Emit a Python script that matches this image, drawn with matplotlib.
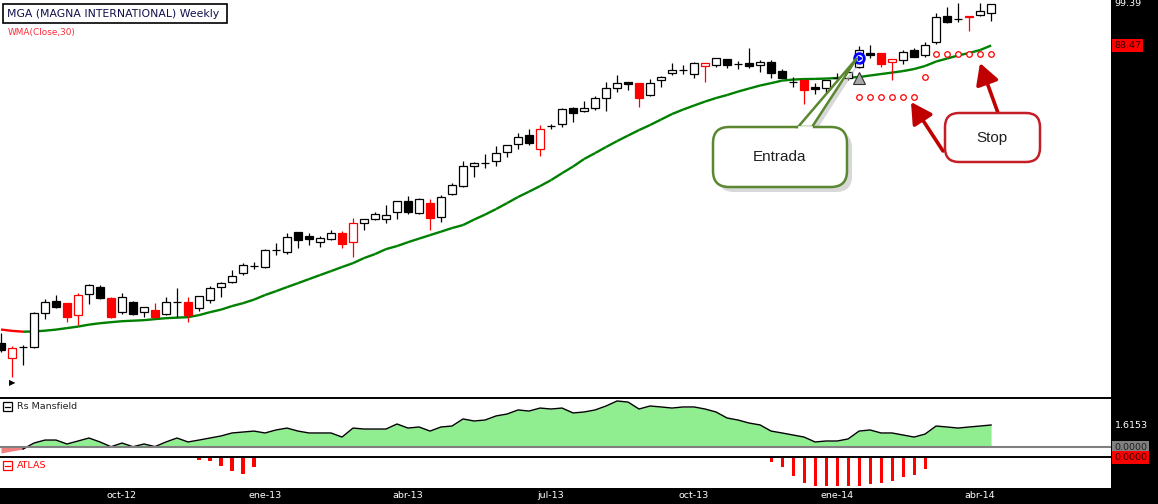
import numpy as np
import pandas as pd
import matplotlib
matplotlib.use('Agg')
import matplotlib.pyplot as plt
from matplotlib.patches import Rectangle, FancyBboxPatch, Polygon, FancyArrowPatch
from matplotlib.collections import LineCollection

# MGA weekly candles, jul-12 .. abr-14
opens = [38.40, 36.82, 37.98, 37.98, 41.77, 43.21, 42.96, 41.54, 44.07, 44.94,
         43.58, 41.89, 43.08, 41.89, 42.13, 41.66, 43.08, 43.08, 42.37, 43.33,
         44.94, 45.57, 46.73, 47.67, 47.54, 49.85, 49.56, 52.43, 51.85, 50.97,
         51.41, 52.28, 50.97, 53.76, 54.38, 54.38, 55.45, 57.20, 55.29, 56.87,
         54.69, 58.34, 59.65, 63.09, 63.61, 63.98, 65.62, 67.12, 68.83, 66.18,
         70.59, 70.99, 74.24, 73.61, 74.24, 76.36, 78.53, 79.84, 79.61, 77.00,
         80.31, 81.88, 82.59, 81.67, 83.53, 83.76, 85.18, 84.00, 84.21, 83.76,
         84.45, 82.35, 79.84, 80.31, 78.75, 78.53, 80.76, 80.76, 83.29, 86.63,
         86.63, 84.45, 84.93, 87.35, 86.15, 89.32, 96.10, 95.29, 95.83, 96.37,
         96.89]
highs = [39.49, 38.09, 38.19, 41.89, 43.45, 43.95, 43.00, 44.18, 45.32, 45.19,
         43.65, 44.18, 43.21, 42.55, 42.96, 43.70, 44.81, 43.70, 43.85, 45.07,
         45.57, 47.13, 48.06, 48.20, 49.99, 50.83, 52.28, 52.50, 52.28, 51.85,
         52.73, 52.58, 54.53, 54.40, 55.45, 56.56, 57.25, 58.01, 57.69, 57.52,
         58.18, 60.14, 63.98, 63.80, 65.26, 66.74, 66.95, 69.20, 70.00, 70.79,
         70.99, 74.24, 74.45, 75.71, 76.79, 79.84, 81.44, 79.90, 79.70, 80.53,
         81.21, 84.21, 83.76, 84.45, 84.25, 85.50, 85.25, 84.69, 87.85, 84.93,
         84.93, 82.82, 80.98, 80.40, 79.61, 80.40, 81.88, 82.20, 88.34, 88.59,
         86.70, 85.25, 87.35, 87.85, 89.32, 96.89, 98.55, 99.67, 96.15, 99.67,
         99.45]
lows = [37.44, 34.91, 36.11, 37.87, 41.08, 42.40, 40.73, 40.40, 42.85, 43.45,
        41.19, 41.66, 41.60, 41.31, 41.08, 41.54, 41.31, 40.73, 42.01, 42.96,
        43.70, 45.44, 46.48, 47.27, 47.40, 49.16, 49.30, 50.13, 50.56, 50.27,
        51.26, 50.13, 48.89, 52.73, 54.22, 53.76, 54.38, 55.15, 55.15, 52.73,
        53.91, 58.18, 59.49, 61.18, 62.74, 63.09, 64.71, 66.18, 66.93, 64.89,
        70.00, 70.39, 71.37, 73.50, 73.82, 73.61, 77.64, 78.08, 74.45, 76.79,
        78.75, 81.44, 81.67, 80.76, 79.84, 83.29, 83.06, 82.82, 83.06, 82.12,
        80.76, 80.70, 78.75, 75.08, 77.22, 77.22, 79.61, 80.31, 83.10, 85.42,
        83.29, 80.31, 84.00, 85.60, 85.66, 88.84, 94.24, 94.50, 92.13, 96.10,
        94.77]
closes = [37.66, 37.87, 37.98, 41.77, 43.08, 42.49, 41.31, 43.95, 45.19, 43.58,
          41.31, 43.70, 41.66, 42.49, 41.31, 43.08, 43.08, 41.54, 43.82, 44.81,
          45.44, 46.35, 47.81, 47.67, 49.85, 49.85, 51.70, 51.26, 51.41, 51.56,
          52.28, 50.70, 53.76, 54.38, 55.15, 54.99, 57.20, 55.45, 57.52, 54.53,
          57.85, 59.82, 63.09, 63.61, 63.61, 65.43, 66.93, 68.44, 67.28, 70.00,
          70.59, 74.03, 73.19, 74.24, 76.36, 78.53, 79.61, 79.42, 76.36, 79.61,
          80.98, 82.59, 82.59, 84.21, 84.21, 85.42, 83.76, 84.00, 83.53, 84.45,
          81.88, 80.76, 79.84, 78.08, 78.31, 80.31, 80.76, 82.12, 87.35, 86.15,
          84.00, 85.18, 86.87, 85.66, 88.59, 95.83, 94.50, 95.29, 96.10, 97.44,
          99.39]
red_bars = [1, 6, 7, 10, 14, 17, 31, 32, 39, 49, 58, 64, 73, 80, 81, 88]

wma30 = [39.90, 39.75, 39.66, 39.68, 39.77, 39.89, 40.06, 40.23, 40.45, 40.61,
         40.73, 40.84, 40.90, 40.96, 41.08, 41.19, 41.25, 41.31, 41.54, 41.89,
         42.19, 42.61, 42.96, 43.39, 43.95, 44.43, 44.94, 45.44, 45.96, 46.48,
         47.00, 47.54, 48.06, 48.75, 49.30, 49.99, 50.42, 50.97, 51.48, 51.99,
         52.50, 53.03, 53.48, 54.30, 55.07, 55.93, 56.87, 57.85, 58.73, 59.65,
         60.66, 61.85, 63.01, 64.35, 65.43, 66.56, 67.67, 68.73, 69.80, 70.79,
         71.89, 73.01, 73.92, 74.77, 75.60, 76.36, 77.00, 77.75, 78.42, 79.08,
         79.61, 80.18, 80.41, 80.53, 80.56, 80.64, 80.76, 80.87, 80.98, 81.33,
         81.67, 82.00, 82.35, 82.82, 83.53, 84.58, 85.30, 86.03, 86.63, 87.35,
         88.47]

rs_mansfield = [-0.44, -0.29, -0.15, 0.29, 0.51, 0.51, 0.22, 0.44, 0.66, 0.37,
                0.02, 0.29, 0.02, 0.22, 0.03, 0.37, 0.66, 0.37, 0.51, 0.66,
                0.81, 1.03, 1.10, 1.17, 1.03, 1.25, 1.39, 1.17, 1.03, 1.03,
                1.03, 0.73, 1.39, 1.32, 1.32, 1.32, 1.69, 1.39, 1.47, 1.17,
                1.47, 1.54, 2.06, 1.91, 1.98, 2.28, 2.42, 2.72, 2.64, 2.86,
                2.79, 2.86, 2.50, 2.57, 2.72, 3.01, 3.38, 3.30, 2.79, 3.01,
                2.94, 2.86, 2.94, 2.94, 2.79, 2.57, 2.13, 1.98, 1.76, 1.62,
                1.17, 1.03, 0.88, 0.73, 0.37, 0.44, 0.44, 0.59, 1.17, 1.25,
                1.03, 1.03, 0.88, 0.73, 0.95, 1.54, 1.47, 1.39, 1.47, 1.54,
                1.6153]

atlas_idx = [18, 19, 20, 21, 22, 23, 70, 71, 72, 73, 74, 75, 76, 77, 78, 79, 80, 81, 82, 83, 84]
atlas_val = [-0.3, -0.4, -0.9, -1.4, -1.7, -1.0, -0.5, -1.0, -1.9, -2.6, -2.9, -2.9, -2.9,
             -2.9, -2.9, -2.7, -2.6, -2.4, -2.0, -1.8, -1.2]

stop_idx = [78, 79, 80, 81, 82, 83, 84, 85, 86, 87, 88, 89, 90]
stop_val = [76.57, 76.57, 76.57, 76.57, 76.57, 76.57, 80.98, 86.39, 86.39, 86.39, 86.39, 86.39, 86.39]
entry_idx = 78
entry_price = 85.42
entry_mark = 80.76

tick_dates = ['2012-10-01', '2013-01-01', '2013-04-01', '2013-07-01', '2013-10-01', '2014-01-01', '2014-04-01']
tick_labels = ['oct-12', 'ene-13', 'abr-13', 'jul-13', 'oct-13', 'ene-14', 'abr-14']

dates = pd.date_range('2012-07-16', periods=len(closes), freq='W-MON')
x = np.arange(len(closes))
o = np.array(opens); h = np.array(highs); l = np.array(lows); c = np.array(closes)
wma = np.array(wma30)
rs = np.array(rs_mansfield)

W, H = 1158, 504
fig = plt.figure(figsize=(W / 100, H / 100), dpi=100, facecolor='black')
xl = (-0.09, 100.9)
aw = 1111 / W

ax = fig.add_axes([0, 106 / H, aw, 398 / H])
axr = fig.add_axes([0, 47 / H, aw, 59 / H])
axa = fig.add_axes([0, 16 / H, aw, 31 / H])
for a in (ax, axr, axa):
    a.set_facecolor('white')
    a.set_xlim(*xl)
    for s in a.spines.values():
        s.set_visible(False)
    a.tick_params(which='both', left=False, bottom=False, labelleft=False, labelbottom=False)
for a in (axr, axa):
    a.spines['top'].set_visible(True)
    a.spines['top'].set_linewidth(1.4)

# --- price panel ---
ax.set_yscale('log')
ax.set_ylim(32.93, 100.51)
ax.yaxis.set_major_locator(matplotlib.ticker.NullLocator())
ax.yaxis.set_minor_locator(matplotlib.ticker.NullLocator())

isred = np.isin(x, red_bars)
edge = np.where(isred, '#ff0000', 'black')
face = np.where(isred, '#ff0000', 'black')
face = np.where(c > o, 'white', face)
doji = c == o
body = ~doji

ax.vlines(x, l, h, colors=edge, lw=0.9, zorder=3)
ax.bar(x[body], np.abs(c - o)[body], bottom=np.minimum(o, c)[body], width=0.72,
       color=face[body], edgecolor=edge[body], linewidth=0.9, zorder=4)
ax.hlines(o[doji], x[doji] - 0.36, x[doji] + 0.36, colors=edge[doji], lw=0.9, zorder=4)

pts = np.column_stack([x, wma])
segs = np.stack([pts[:-1], pts[1:]], axis=1)
cols = ['#008000' if wma[i + 1] >= wma[i] else '#ff0000' for i in range(len(wma) - 1)]
ax.add_collection(LineCollection(segs, colors=cols, linewidths=1.7, zorder=2))

ax.plot(stop_idx, stop_val, 'o', ms=4, mfc='white', mec='#ff0000', mew=0.9, ls='none', zorder=5)
ax.plot(entry_idx, entry_mark, '^', ms=8, mfc='#a8a8a8', mec='#303030', mew=0.8, zorder=5)
ax.plot(entry_idx, entry_price, 'o', ms=7, mfc='white', mec='#0000ff', mew=2, zorder=6)
ax.plot(entry_idx, entry_price, marker=(3, 0, 30), ms=3.5, color='#0000ff', zorder=7)

lab = dict(fontsize=6.8, ha='left', va='center', annotation_clip=False)
ax.annotate('99.39', xy=(1114 / W, closes[-1]), xycoords=('figure fraction', 'data'),
            color='white', **lab)
ax.annotate('%.2f' % wma30[-1], xy=(1114 / W, wma30[-1]), xycoords=('figure fraction', 'data'),
            color='#300000', bbox=dict(boxstyle='square,pad=0.2', fc='#ff0000', ec='none'), **lab)

# --- Rs Mansfield ---
axr.set_ylim(-0.734, 3.598)
axr.fill_between(x, rs, 0, where=rs >= 0, interpolate=True, color='#90ee90', lw=0)
axr.fill_between(x, rs, 0, where=rs <= 0, interpolate=True, color='#f08080', lw=0)
axr.plot(x[2:], rs[2:], color='black', lw=1.0)
axr.axhline(0, color='#808080', lw=1.5)
axr.annotate('%.4f' % rs[-1], xy=(1115 / W, rs[-1]), xycoords=('figure fraction', 'data'),
             color='white', **lab)
axr.annotate('0.0000', xy=(1114 / W, 0), xycoords=('figure fraction', 'data'),
             color='#202020', bbox=dict(boxstyle='square,pad=0.2', fc='#808080', ec='none'), **lab)

# --- ATLAS ---
axa.set_ylim(-3.1, 0)
axa.bar(atlas_idx, atlas_val, width=0.28, color='#ff0000', zorder=2)
axa.annotate('0.0000', xy=(1114 / W, -0.05), xycoords=('figure fraction', 'data'),
             color='#300000', bbox=dict(boxstyle='square,pad=0.2', fc='#ff0000', ec='none'), **lab)

for d, t in zip(tick_dates, tick_labels):
    i = dates.searchsorted(pd.Timestamp(d) - pd.Timedelta(days=6))
    axa.annotate(t, xy=(i, 8 / H), xycoords=('data', 'figure fraction'), color='white',
                 fontsize=6.8, ha='center', va='center', annotation_clip=False)

# --- overlay: legend texts and callouts in pixel units ---
ov = fig.add_axes([0, 0, 1, 1])
ov.set_xlim(0, W)
ov.set_ylim(H, 0)
ov.axis('off')
ov.patch.set_alpha(0)

ov.add_patch(Rectangle((3, 4), 224, 19, fc='white', ec='black', lw=1.2))
ov.text(7, 14, 'MGA (MAGNA INTERNATIONAL) Weekly', fontsize=7.8, color='#10104a', va='center')
ov.text(8, 33, 'WMA(Close,30)', fontsize=6.4, color='#ff2a3a', va='center')
ov.text(9, 383, '\u25b6', fontsize=6, color='black', va='center')

ov.add_patch(Rectangle((3, 402), 9, 9, fc='white', ec='black', lw=0.9))
ov.plot([5, 10], [406.5, 406.5], color='black', lw=0.9)
ov.text(17, 406.5, 'Rs Mansfield', fontsize=6.8, color='#202020', va='center')
ov.add_patch(Rectangle((3, 461), 9, 9, fc='white', ec='#ff0000', lw=0.9))
ov.plot([5, 10], [465.5, 465.5], color='#ff0000', lw=0.9)
ov.text(17, 465.5, 'ATLAS', fontsize=6.8, color='#ff0000', va='center')

# Entrada callout
green = '#5b8731'
ov.add_patch(FancyBboxPatch((718, 132), 134, 60, boxstyle='round,pad=0,rounding_size=16',
                            fc='#b8b8b8', ec='none', alpha=0.55))
ov.add_patch(Polygon([(801, 131), (861, 61), (816, 131)], closed=True, fc='#b8b8b8', ec='none', alpha=0.55))
ov.add_patch(FancyBboxPatch((713, 127), 134, 60, boxstyle='round,pad=0,rounding_size=16',
                            fc='white', ec=green, lw=1.8))
ov.add_patch(Polygon([(798, 127), (857, 58), (812, 127)], closed=True, fc='white', ec=green, lw=1.8))
ov.plot([799.5, 810.5], [127.5, 127.5], color='white', lw=2.6)
ov.text(780, 157, 'Entrada', fontsize=11, family='Liberation Sans', color='#202020',
        ha='center', va='center')

# Stop callout
dred = '#c00000'
for p0, p1 in [((943, 151), (911, 102)), ((998, 113), (980, 63))]:
    ov.add_patch(FancyArrowPatch(p0, p1, arrowstyle='-|>,head_length=0.9,head_width=0.5',
                                 mutation_scale=14, lw=2.6, color=dred, shrinkA=0, shrinkB=0))
ov.add_patch(FancyBboxPatch((945, 113), 95, 49, boxstyle='round,pad=0,rounding_size=14',
                            fc='white', ec='#c41e26', lw=1.8))
ov.text(992, 138, 'Stop', fontsize=11, family='Liberation Sans', color='#202020',
        ha='center', va='center')

fig.savefig('out.png', dpi=100, facecolor=fig.get_facecolor())
